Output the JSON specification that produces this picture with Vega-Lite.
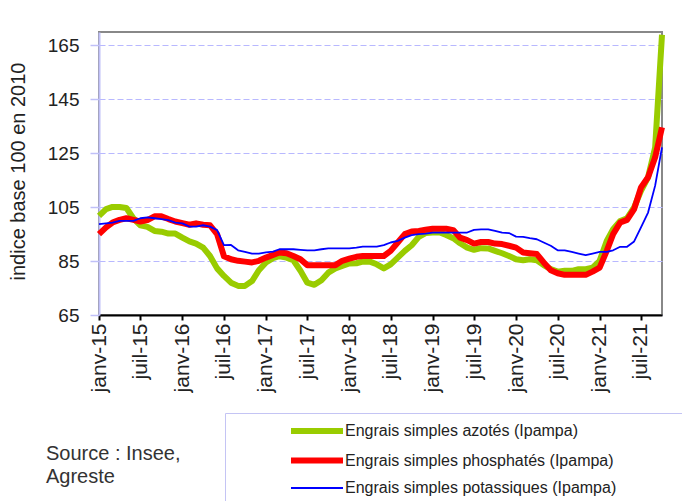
{
  "$schema": "https://vega.github.io/schema/vega-lite/v6.json",
  "autosize": {"type": "none"},
  "padding": {"left": 99, "top": 32, "right": 20, "bottom": 186},
  "width": 563,
  "height": 283,
  "background": "white",
  "config": {
    "font": "Liberation Sans",
    "view": {"stroke": "#888888", "strokeWidth": 2}
  },
  "title": {
    "text": ["Source : Insee,", "Agreste"],
    "orient": "bottom",
    "anchor": "start",
    "frame": "group",
    "dx": -53,
    "dy": -114,
    "offset": 0,
    "fontSize": 20,
    "fontWeight": "normal",
    "color": "#333333",
    "lineHeight": 23
  },
  "data": {
    "values": [
      {"mois": "2015-01", "azotes": 101.8, "phosphates": 95.0, "potassiques": 98.7},
      {"mois": "2015-02", "azotes": 104.3, "phosphates": 97.5, "potassiques": 99.0},
      {"mois": "2015-03", "azotes": 105.1, "phosphates": 99.3, "potassiques": 99.3},
      {"mois": "2015-04", "azotes": 105.1, "phosphates": 100.3, "potassiques": 99.9},
      {"mois": "2015-05", "azotes": 104.7, "phosphates": 100.9, "potassiques": 99.9},
      {"mois": "2015-06", "azotes": 100.8, "phosphates": 100.3, "potassiques": 99.9},
      {"mois": "2015-07", "azotes": 98.3, "phosphates": 99.7, "potassiques": 100.9},
      {"mois": "2015-08", "azotes": 97.7, "phosphates": 100.2, "potassiques": 101.2},
      {"mois": "2015-09", "azotes": 96.2, "phosphates": 101.6, "potassiques": 100.9},
      {"mois": "2015-10", "azotes": 95.9, "phosphates": 101.6, "potassiques": 100.6},
      {"mois": "2015-11", "azotes": 95.2, "phosphates": 100.6, "potassiques": 100.2},
      {"mois": "2015-12", "azotes": 95.2, "phosphates": 99.7, "potassiques": 99.3},
      {"mois": "2016-01", "azotes": 93.7, "phosphates": 99.1, "potassiques": 99.0},
      {"mois": "2016-02", "azotes": 92.3, "phosphates": 98.5, "potassiques": 97.8},
      {"mois": "2016-03", "azotes": 91.5, "phosphates": 99.0, "potassiques": 97.8},
      {"mois": "2016-04", "azotes": 90.0, "phosphates": 98.5, "potassiques": 98.3},
      {"mois": "2016-05", "azotes": 86.9, "phosphates": 98.3, "potassiques": 97.8},
      {"mois": "2016-06", "azotes": 82.3, "phosphates": 95.0, "potassiques": 96.5},
      {"mois": "2016-07", "azotes": 79.5, "phosphates": 86.8, "potassiques": 90.9},
      {"mois": "2016-08", "azotes": 77.0, "phosphates": 85.7, "potassiques": 91.0},
      {"mois": "2016-09", "azotes": 75.8, "phosphates": 85.1, "potassiques": 89.0},
      {"mois": "2016-10", "azotes": 75.8, "phosphates": 84.8, "potassiques": 88.4},
      {"mois": "2016-11", "azotes": 77.6, "phosphates": 84.5, "potassiques": 87.8},
      {"mois": "2016-12", "azotes": 81.6, "phosphates": 85.1, "potassiques": 87.8},
      {"mois": "2017-01", "azotes": 84.5, "phosphates": 86.3, "potassiques": 88.2},
      {"mois": "2017-02", "azotes": 86.1, "phosphates": 87.3, "potassiques": 88.5},
      {"mois": "2017-03", "azotes": 86.8, "phosphates": 88.2, "potassiques": 89.4},
      {"mois": "2017-04", "azotes": 86.3, "phosphates": 87.9, "potassiques": 89.4},
      {"mois": "2017-05", "azotes": 85.3, "phosphates": 86.9, "potassiques": 89.4},
      {"mois": "2017-06", "azotes": 81.4, "phosphates": 85.7, "potassiques": 89.2},
      {"mois": "2017-07", "azotes": 77.0, "phosphates": 83.5, "potassiques": 89.0},
      {"mois": "2017-08", "azotes": 76.2, "phosphates": 83.5, "potassiques": 89.0},
      {"mois": "2017-09", "azotes": 77.9, "phosphates": 83.5, "potassiques": 89.4},
      {"mois": "2017-10", "azotes": 80.7, "phosphates": 83.5, "potassiques": 89.7},
      {"mois": "2017-11", "azotes": 82.3, "phosphates": 83.5, "potassiques": 89.7},
      {"mois": "2017-12", "azotes": 83.2, "phosphates": 85.1, "potassiques": 89.7},
      {"mois": "2018-01", "azotes": 84.1, "phosphates": 85.9, "potassiques": 89.7},
      {"mois": "2018-02", "azotes": 84.2, "phosphates": 86.6, "potassiques": 90.0},
      {"mois": "2018-03", "azotes": 84.8, "phosphates": 86.9, "potassiques": 90.4},
      {"mois": "2018-04", "azotes": 84.8, "phosphates": 86.9, "potassiques": 90.4},
      {"mois": "2018-05", "azotes": 83.8, "phosphates": 86.9, "potassiques": 90.4},
      {"mois": "2018-06", "azotes": 82.3, "phosphates": 86.9, "potassiques": 90.9},
      {"mois": "2018-07", "azotes": 83.8, "phosphates": 88.8, "potassiques": 91.9},
      {"mois": "2018-08", "azotes": 86.3, "phosphates": 91.9, "potassiques": 92.5},
      {"mois": "2018-09", "azotes": 88.8, "phosphates": 95.0, "potassiques": 93.7},
      {"mois": "2018-10", "azotes": 90.9, "phosphates": 96.0, "potassiques": 94.6},
      {"mois": "2018-11", "azotes": 94.0, "phosphates": 96.2, "potassiques": 95.0},
      {"mois": "2018-12", "azotes": 95.4, "phosphates": 96.6, "potassiques": 95.2},
      {"mois": "2019-01", "azotes": 95.6, "phosphates": 97.0, "potassiques": 95.6},
      {"mois": "2019-02", "azotes": 95.6, "phosphates": 97.0, "potassiques": 95.6},
      {"mois": "2019-03", "azotes": 94.7, "phosphates": 97.0, "potassiques": 95.6},
      {"mois": "2019-04", "azotes": 93.5, "phosphates": 96.5, "potassiques": 95.6},
      {"mois": "2019-05", "azotes": 91.6, "phosphates": 93.7, "potassiques": 95.6},
      {"mois": "2019-06", "azotes": 90.0, "phosphates": 92.8, "potassiques": 95.6},
      {"mois": "2019-07", "azotes": 89.2, "phosphates": 91.5, "potassiques": 96.6},
      {"mois": "2019-08", "azotes": 89.8, "phosphates": 92.1, "potassiques": 96.8},
      {"mois": "2019-09", "azotes": 89.7, "phosphates": 92.1, "potassiques": 96.8},
      {"mois": "2019-10", "azotes": 88.8, "phosphates": 91.5, "potassiques": 96.2},
      {"mois": "2019-11", "azotes": 87.9, "phosphates": 91.3, "potassiques": 95.6},
      {"mois": "2019-12", "azotes": 86.9, "phosphates": 90.7, "potassiques": 95.4},
      {"mois": "2020-01", "azotes": 85.7, "phosphates": 90.0, "potassiques": 94.1},
      {"mois": "2020-02", "azotes": 85.3, "phosphates": 88.2, "potassiques": 94.0},
      {"mois": "2020-03", "azotes": 85.7, "phosphates": 87.9, "potassiques": 93.5},
      {"mois": "2020-04", "azotes": 85.3, "phosphates": 87.6, "potassiques": 93.1},
      {"mois": "2020-05", "azotes": 83.5, "phosphates": 84.5, "potassiques": 91.9},
      {"mois": "2020-06", "azotes": 82.0, "phosphates": 81.6, "potassiques": 90.7},
      {"mois": "2020-07", "azotes": 81.1, "phosphates": 80.5, "potassiques": 89.0},
      {"mois": "2020-08", "azotes": 81.4, "phosphates": 79.9, "potassiques": 89.0},
      {"mois": "2020-09", "azotes": 81.4, "phosphates": 79.9, "potassiques": 88.4},
      {"mois": "2020-10", "azotes": 82.0, "phosphates": 79.9, "potassiques": 87.8},
      {"mois": "2020-11", "azotes": 82.0, "phosphates": 79.9, "potassiques": 87.2},
      {"mois": "2020-12", "azotes": 82.6, "phosphates": 81.1, "potassiques": 87.8},
      {"mois": "2021-01", "azotes": 85.1, "phosphates": 82.6, "potassiques": 88.4},
      {"mois": "2021-02", "azotes": 92.5, "phosphates": 88.8, "potassiques": 88.4},
      {"mois": "2021-03", "azotes": 96.8, "phosphates": 95.0, "potassiques": 89.0},
      {"mois": "2021-04", "azotes": 99.9, "phosphates": 99.3, "potassiques": 90.3},
      {"mois": "2021-05", "azotes": 100.9, "phosphates": 100.3, "potassiques": 90.3},
      {"mois": "2021-06", "azotes": 104.9, "phosphates": 104.3, "potassiques": 92.3},
      {"mois": "2021-07", "azotes": 111.1, "phosphates": 112.3, "potassiques": 97.5},
      {"mois": "2021-08", "azotes": 116.1, "phosphates": 116.1, "potassiques": 103.0},
      {"mois": "2021-09", "azotes": 127.2, "phosphates": 123.5, "potassiques": 113.0},
      {"mois": "2021-10", "azotes": 169.0, "phosphates": 134.6, "potassiques": 127.2}
    ],
    "format": {"parse": {"mois": "utc:'%Y-%m'"}}
  },
  "transform": [
    {"fold": ["azotes", "phosphates", "potassiques"], "as": ["serie", "indice"]}
  ],
  "mark": {"type": "line", "strokeJoin": "round", "strokeCap": "butt", "clip": false},
  "encoding": {
    "x": {
      "field": "mois",
      "type": "temporal",
      "scale": {"type": "utc", "nice": false, "padding": 0},
      "axis": {
        "title": null,
        "values": [
          {"year": 2015, "month": 1, "date": 1, "utc": true},
          {"year": 2015, "month": 7, "date": 1, "utc": true},
          {"year": 2016, "month": 1, "date": 1, "utc": true},
          {"year": 2016, "month": 7, "date": 1, "utc": true},
          {"year": 2017, "month": 1, "date": 1, "utc": true},
          {"year": 2017, "month": 7, "date": 1, "utc": true},
          {"year": 2018, "month": 1, "date": 1, "utc": true},
          {"year": 2018, "month": 7, "date": 1, "utc": true},
          {"year": 2019, "month": 1, "date": 1, "utc": true},
          {"year": 2019, "month": 7, "date": 1, "utc": true},
          {"year": 2020, "month": 1, "date": 1, "utc": true},
          {"year": 2020, "month": 7, "date": 1, "utc": true},
          {"year": 2021, "month": 1, "date": 1, "utc": true},
          {"year": 2021, "month": 7, "date": 1, "utc": true}
        ],
        "labelExpr": "(utcmonth(datum.value) == 0 ? 'janv-' : 'juil-') + utcFormat(datum.value, '%y')",
        "labelAngle": 270,
        "labelAlign": "right",
        "labelBaseline": "middle",
        "labelFontSize": 21,
        "labelColor": "#222222",
        "labelPadding": 3,
        "labelFlush": false,
        "labelOverlap": false,
        "labelBound": false,
        "grid": false,
        "domainColor": "#000000",
        "domainWidth": 2,
        "tickColor": "#000000",
        "tickWidth": 2,
        "tickSize": 5
      }
    },
    "y": {
      "field": "indice",
      "type": "quantitative",
      "scale": {"domain": [65, 170], "nice": false, "zero": false},
      "axis": {
        "title": "indice base 100 en 2010",
        "titleFontSize": 20,
        "titleFontWeight": "normal",
        "titleColor": "#222222",
        "titleAngle": 270,
        "titleX": -81,
        "titleY": 139,
        "titleAlign": "center",
        "titleBaseline": "middle",
        "values": [65, 85, 105, 125, 145, 165],
        "labelFontSize": 19,
        "labelColor": "#222222",
        "labelPadding": 11,
        "grid": true,
        "gridColor": "#b8b8ff",
        "gridDash": [6, 3],
        "gridWidth": 1.2,
        "domainColor": "#c0c0f8",
        "domainWidth": 2,
        "tickColor": "#c0c0f8",
        "tickSize": 9,
        "tickWidth": 1.5
      }
    },
    "color": {
      "field": "serie",
      "type": "nominal",
      "scale": {
        "domain": ["azotes", "phosphates", "potassiques"],
        "range": ["#99cc00", "#ff0000", "#0000ff"]
      },
      "legend": {
        "orient": "none",
        "legendX": 126,
        "legendY": 381,
        "direction": "vertical",
        "title": "\u00a0",
        "titleOrient": "right",
        "titleFontSize": 100,
        "titleBaseline": "top",
        "titlePadding": 150,
        "padding": 2,
        "strokeColor": "#c4c4f4",
        "fillColor": "#ffffff",
        "symbolType": "M-2,0H2",
        "symbolSize": 676,
        "symbolOffset": 74,
        "labelOffset": 12,
        "rowPadding": 1.5,
        "labelFontSize": 16,
        "labelColor": "#222222",
        "labelLimit": 0,
        "labelExpr": "datum.label == 'azotes' ? 'Engrais simples azotés (Ipampa)' : datum.label == 'phosphates' ? 'Engrais simples phosphatés (Ipampa)' : 'Engrais simples potassiques (Ipampa)'"
      }
    },
    "strokeWidth": {
      "field": "serie",
      "type": "ordinal",
      "scale": {
        "type": "ordinal",
        "domain": ["azotes", "phosphates", "potassiques"],
        "range": [6, 6, 1.8]
      }
    }
  }
}
